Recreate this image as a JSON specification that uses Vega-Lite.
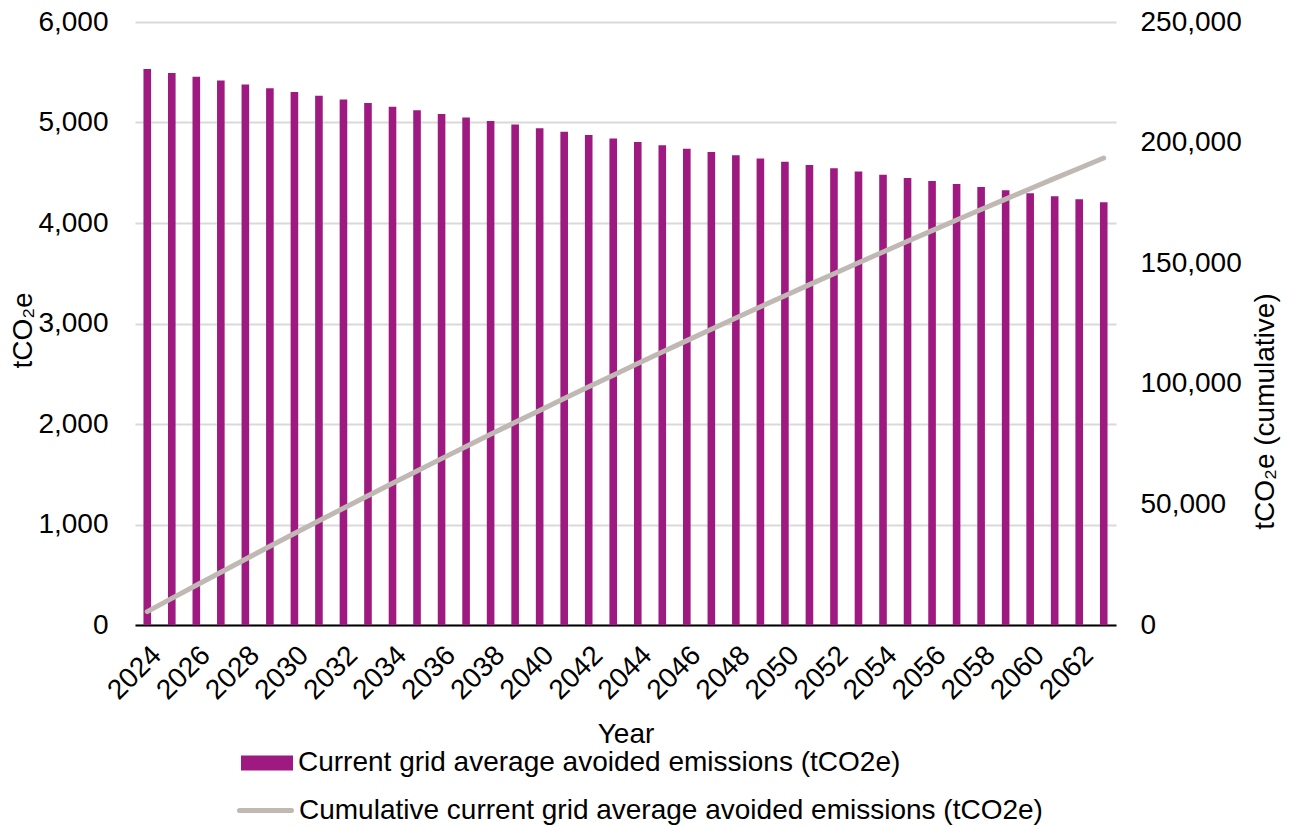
{
  "$schema": "https://vega.github.io/schema/vega-lite/v6.json",
  "autosize": {"type": "none"},
  "width": 981,
  "height": 603,
  "padding": {"left": 135, "top": 22, "right": 173, "bottom": 202},
  "background": "white",
  "config": {
    "font": "Liberation Sans",
    "view": {"stroke": null},
    "axis": {"labelColor": "black", "titleColor": "black", "titleFontWeight": "normal", "labelFontSize": 28, "titleFontSize": 28},
    "legend": {"labelColor": "black", "labelFontSize": 28, "labelLimit": 0}
  },
  "data": {
    "values": [
      {"Year": 2024, "Avoided": 5532, "Cumulative": 5532},
      {"Year": 2025, "Avoided": 5493, "Cumulative": 11025},
      {"Year": 2026, "Avoided": 5455, "Cumulative": 16480},
      {"Year": 2027, "Avoided": 5417, "Cumulative": 21897},
      {"Year": 2028, "Avoided": 5379, "Cumulative": 27276},
      {"Year": 2029, "Avoided": 5341, "Cumulative": 32617},
      {"Year": 2030, "Avoided": 5304, "Cumulative": 37921},
      {"Year": 2031, "Avoided": 5267, "Cumulative": 43188},
      {"Year": 2032, "Avoided": 5230, "Cumulative": 48418},
      {"Year": 2033, "Avoided": 5193, "Cumulative": 53611},
      {"Year": 2034, "Avoided": 5157, "Cumulative": 58768},
      {"Year": 2035, "Avoided": 5121, "Cumulative": 63889},
      {"Year": 2036, "Avoided": 5085, "Cumulative": 68974},
      {"Year": 2037, "Avoided": 5049, "Cumulative": 74023},
      {"Year": 2038, "Avoided": 5014, "Cumulative": 79037},
      {"Year": 2039, "Avoided": 4979, "Cumulative": 84016},
      {"Year": 2040, "Avoided": 4944, "Cumulative": 88960},
      {"Year": 2041, "Avoided": 4909, "Cumulative": 93869},
      {"Year": 2042, "Avoided": 4875, "Cumulative": 98744},
      {"Year": 2043, "Avoided": 4841, "Cumulative": 103585},
      {"Year": 2044, "Avoided": 4807, "Cumulative": 108392},
      {"Year": 2045, "Avoided": 4773, "Cumulative": 113165},
      {"Year": 2046, "Avoided": 4740, "Cumulative": 117905},
      {"Year": 2047, "Avoided": 4707, "Cumulative": 122612},
      {"Year": 2048, "Avoided": 4674, "Cumulative": 127286},
      {"Year": 2049, "Avoided": 4641, "Cumulative": 131927},
      {"Year": 2050, "Avoided": 4609, "Cumulative": 136536},
      {"Year": 2051, "Avoided": 4576, "Cumulative": 141112},
      {"Year": 2052, "Avoided": 4544, "Cumulative": 145656},
      {"Year": 2053, "Avoided": 4512, "Cumulative": 150168},
      {"Year": 2054, "Avoided": 4481, "Cumulative": 154649},
      {"Year": 2055, "Avoided": 4449, "Cumulative": 159098},
      {"Year": 2056, "Avoided": 4418, "Cumulative": 163516},
      {"Year": 2057, "Avoided": 4387, "Cumulative": 167903},
      {"Year": 2058, "Avoided": 4357, "Cumulative": 172260},
      {"Year": 2059, "Avoided": 4326, "Cumulative": 176586},
      {"Year": 2060, "Avoided": 4296, "Cumulative": 180882},
      {"Year": 2061, "Avoided": 4266, "Cumulative": 185148},
      {"Year": 2062, "Avoided": 4236, "Cumulative": 189384},
      {"Year": 2063, "Avoided": 4206, "Cumulative": 193590}
    ]
  },
  "encoding": {
    "x": {
      "field": "Year",
      "type": "ordinal",
      "scale": {"paddingInner": 0.69, "paddingOuter": 0.345},
      "axis": {
        "title": "Year",
        "titleX": 490.5,
        "titleY": 117,
        "titleBaseline": "alphabetic",
        "labelAngle": -45,
        "labelExpr": "datum.value % 2 == 0 ? datum.label : ''",
        "labelOverlap": false,
        "labelPadding": 21,
        "tickSize": -5,
        "tickColor": "black",
        "tickWidth": 1.5,
        "domainColor": "black",
        "domainWidth": 2,
        "grid": false
      }
    }
  },
  "layer": [
    {
      "mark": {"type": "bar", "fill": "#9E1A80"},
      "encoding": {
        "y": {
          "field": "Avoided",
          "type": "quantitative",
          "scale": {"domain": [0, 6000]},
          "axis": {
            "title": "tCO₂e",
            "titleX": -104,
            "titleY": 308,
            "titleAlign": "center",
            "titleBaseline": "alphabetic",
            "values": [0, 1000, 2000, 3000, 4000, 5000, 6000],
            "format": ",.0f",
            "ticks": false,
            "domain": false,
            "labelPadding": 27,
            "grid": true,
            "gridColor": "#D9D9D9",
            "gridWidth": 2
          }
        },
        "fill": {
          "datum": "Current grid average avoided emissions (tCO2e)",
          "scale": {"range": ["#9E1A80"]},
          "legend": {
            "title": null,
            "orient": "none",
            "legendX": 106,
            "legendY": 715,
            "padding": 0,
            "symbolType": "M-1,-0.29H1V0.29H-1Z",
            "symbolSize": 2704,
            "symbolStrokeWidth": 0,
            "labelOffset": 5
          }
        }
      }
    },
    {
      "mark": {"type": "line", "stroke": "#BFB8B3", "strokeWidth": 5, "strokeCap": "round"},
      "encoding": {
        "y": {
          "field": "Cumulative",
          "type": "quantitative",
          "scale": {"domain": [0, 250000]},
          "axis": {
            "orient": "right",
            "title": "tCO₂e (cumulative)",
            "titleAngle": -90,
            "titleX": 157,
            "titleY": 389,
            "titleAlign": "center",
            "titleBaseline": "alphabetic",
            "values": [0, 50000, 100000, 150000, 200000, 250000],
            "format": ",.0f",
            "ticks": false,
            "domain": false,
            "labelPadding": 24,
            "grid": false
          }
        },
        "stroke": {
          "datum": "Cumulative current grid average avoided emissions (tCO2e)",
          "scale": {"range": ["#BFB8B3"]},
          "legend": {
            "title": null,
            "orient": "none",
            "legendX": 102,
            "legendY": 760,
            "padding": 0,
            "symbolType": "stroke",
            "symbolSize": 2704,
            "symbolStrokeWidth": 5,
            "labelOffset": 5,
            "encode": {"symbols": {"update": {"strokeCap": {"value": "round"}}}}
          }
        }
      }
    }
  ],
  "resolve": {"scale": {"y": "independent"}}
}
